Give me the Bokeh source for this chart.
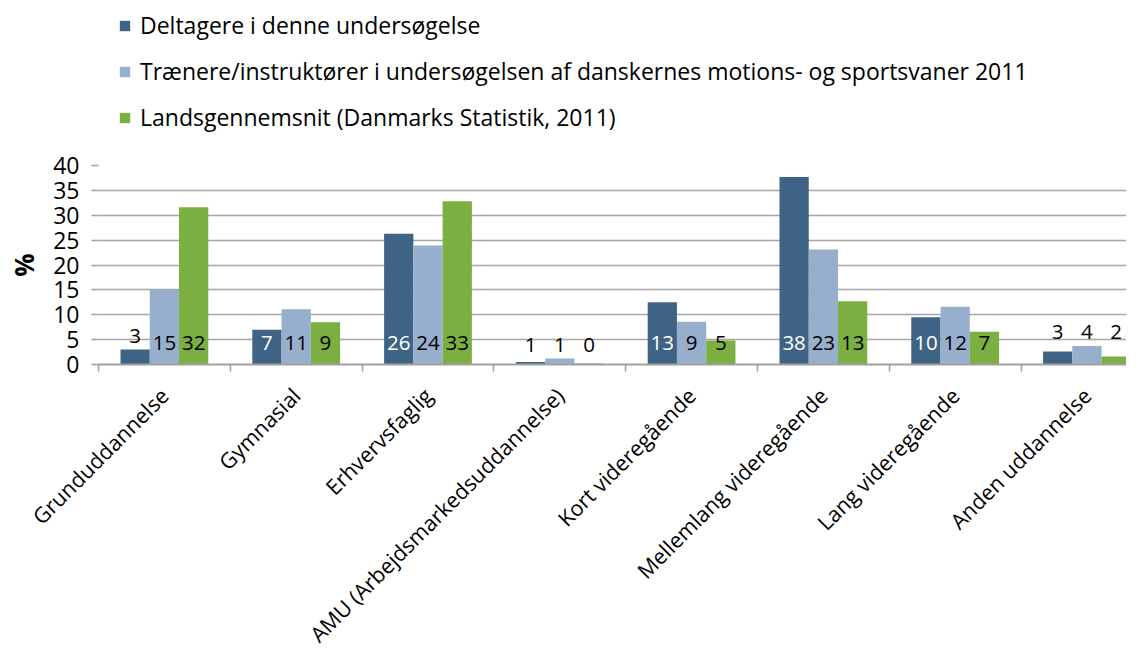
from bokeh.plotting import figure
from bokeh.layouts import column
from bokeh.models import (ColumnDataSource, Range1d, FixedTicker, Legend, LegendItem)
from bokeh.core.properties import value
from bokeh.embed import file_html
from bokeh.resources import INLINE

categories = ["Grunduddannelse", "Gymnasial", "Erhvervsfaglig",
              "AMU (Arbejdsmarkedsuddannelse)", "Kort videregående",
              "Mellemlang videregående", "Lang videregående", "Anden uddannelse"]
series_names = ["Deltagere i denne undersøgelse",
                "Trænere/instruktører i undersøgelsen af danskernes motions- og sportsvaner 2011",
                "Landsgennemsnit (Danmarks Statistik, 2011)"]
deltagere = [3.0, 7.0, 26.3, 0.5, 12.5, 37.7, 9.5, 2.6]
traenere = [15.1, 11.1, 23.9, 1.2, 8.6, 23.1, 11.6, 3.7]
landsgennemsnit = [31.6, 8.5, 32.8, 0.2, 4.8, 12.7, 6.6, 1.6]
y_ticks = [0, 5, 10, 15, 20, 25, 30, 35, 40]

colors = ["#3F6384", "#97AFCD", "#7BAF41"]
inside_colors = ["white", "black", "black"]
FONT = "Open Sans"
SMALL = 4.5
W = 1126
H_LEG = 140
H_MAIN = 522

n = len(categories)
xs = list(range(n))
bw = 0.222
all_series = [deltagere, traenere, landsgennemsnit]

# ---------- legend strip (same data, kept far outside its visible ranges) ----------
lg = figure(width=W, height=H_LEG, output_backend="svg", toolbar_location=None,
            x_range=Range1d(1000, 1001), y_range=Range1d(1000, 1001),
            x_axis_type=None, y_axis_type=None,
            min_border_left=0, min_border_right=0, min_border_top=0,
            min_border_bottom=0)
lg.outline_line_color = None
lg.xgrid.grid_line_color = None
lg.ygrid.grid_line_color = None
leg_renderers = []
for k, (vals, col) in enumerate(zip(all_series, colors)):
    xk = [x + (k - 1) * bw for x in xs]
    leg_renderers.append(lg.vbar(x=xk, top=vals, width=bw, fill_color=col,
                                 line_color=None))
legend = Legend(items=[LegendItem(label=nm, renderers=[r])
                       for nm, r in zip(series_names, leg_renderers)],
                location=(20, 7), orientation="vertical",
                glyph_width=13, glyph_height=13, label_standoff=9,
                label_height=32, spacing=14, padding=0, margin=0,
                border_line_color=None, background_fill_alpha=0,
                label_text_font=FONT, label_text_font_size="23px",
                label_text_color="black")
lg.add_layout(legend, "center")

# ---------- main chart ----------
p = figure(width=W, height=H_MAIN, output_backend="svg", toolbar_location=None,
           x_range=Range1d(-0.5, 7.3), y_range=Range1d(0, 40),
           min_border_left=98, min_border_top=25, min_border_bottom=298,
           min_border_right=0)
p.outline_line_color = None
p.background_fill_color = "white"
p.border_fill_color = "white"

small_top = []
for i in range(n):
    vals = [s[i] for s in all_series if s[i] < SMALL]
    small_top.append(max(vals) if vals else 0)

for k, (vals, col) in enumerate(zip(all_series, colors)):
    xk = [x + (k - 1) * bw for x in xs]
    src = ColumnDataSource(dict(x=xk, top=vals))
    p.vbar(x="x", top="top", width=bw, source=src, fill_color=col,
           line_color=None)
    ly, loff, lcol, ltxt = [], [], [], []
    for i, v in enumerate(vals):
        ltxt.append(str(int(v + 0.5)))
        if v >= SMALL:
            ly.append(0)
            loff.append(-22)
            lcol.append(inside_colors[k])
        else:
            ly.append(small_top[i])
            loff.append(-14)
            lcol.append("black")
    lsrc = ColumnDataSource(dict(x=xk, y=ly, off=loff, c=lcol, t=ltxt))
    p.text(x="x", y="y", text="t", y_offset="off", text_color="c",
           text_align="center", text_baseline="middle", source=lsrc,
           text_font=value(FONT), text_font_size="20.5px")

p.yaxis.ticker = FixedTicker(ticks=y_ticks)
p.yaxis.axis_line_color = None
p.yaxis.major_tick_in = 0
p.yaxis.major_tick_out = 7
p.yaxis.major_tick_line_color = "#a0a0a0"
p.yaxis.major_tick_line_width = 1.5
p.yaxis.minor_tick_line_color = None
p.yaxis.major_label_text_font = FONT
p.yaxis.major_label_text_font_size = "23px"
p.yaxis.major_label_text_color = "black"
p.yaxis.major_label_standoff = 12
p.yaxis.axis_label = "%"
p.yaxis.axis_label_text_font = FONT
p.yaxis.axis_label_text_font_size = "26px"
p.yaxis.axis_label_text_font_style = "bold"
p.yaxis.axis_label_text_color = "black"
p.yaxis.axis_label_standoff = 8

p.xaxis.ticker = FixedTicker(ticks=xs, minor_ticks=[x - 0.5 for x in range(n + 1)])
p.xaxis.major_label_overrides = {i: c for i, c in enumerate(categories)}
p.xaxis.major_tick_line_color = None
p.xaxis.minor_tick_in = 0
p.xaxis.minor_tick_out = 7
p.xaxis.minor_tick_line_color = "#a0a0a0"
p.xaxis.minor_tick_line_width = 1.5
p.xaxis.axis_line_color = "#a0a0a0"
p.xaxis.axis_line_width = 2
p.xaxis.major_label_orientation = 0.785398
p.xaxis.major_label_text_font = FONT
p.xaxis.major_label_text_font_size = "21.5px"
p.xaxis.major_label_text_color = "black"
p.xaxis.major_label_standoff = 20

p.xgrid.grid_line_color = None
p.ygrid.grid_line_color = "#a6a6a6"
p.ygrid.grid_line_width = 1.5

layout = column(lg, p, spacing=0)
open("out.html", "w").write(file_html(layout, INLINE))
